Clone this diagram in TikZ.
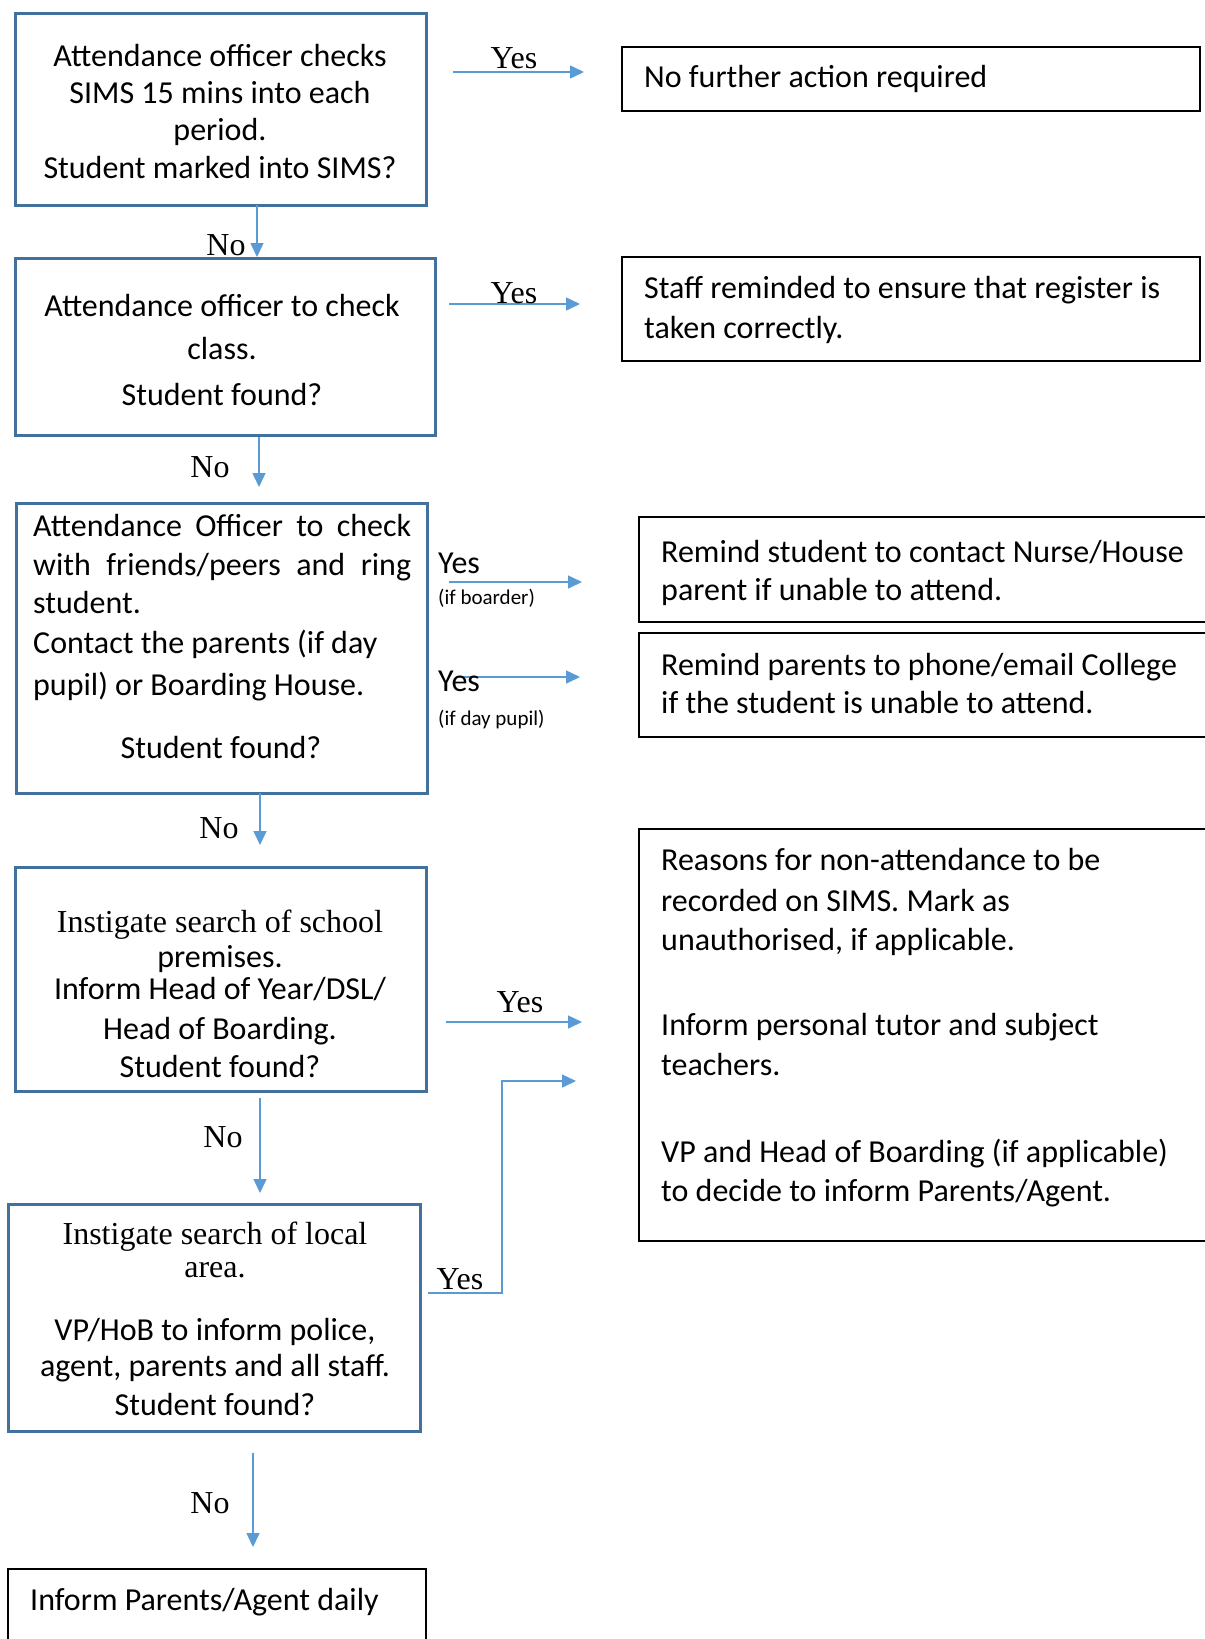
\documentclass[tikz,border=0pt]{standalone}
\usepackage{fontspec}
\setmainfont{Carlito}
\newfontfamily\tnr{Liberation Serif}
\usetikzlibrary{arrows.meta}
\definecolor{boxblue}{RGB}{65,113,156}
\definecolor{arrblue}{RGB}{91,155,213}
\begin{document}
\begin{tikzpicture}[x=1pt,y=-1pt,
  lbox/.style={draw=boxblue, line width=3pt, inner sep=0pt},
  rbox/.style={draw=black, line width=2pt, inner sep=0pt},
  txt/.style={inner sep=0pt, font=\fontsize{32}{37.3}\selectfont},
  lab/.style={inner sep=0pt, font=\tnr\fontsize{32}{36}\selectfont, anchor=base},
  slab/.style={inner sep=0pt, font=\fontsize{32}{36}\selectfont, anchor=base west},
  tiny/.style={inner sep=0pt, font=\fontsize{21}{24}\selectfont, anchor=base west},
  arr/.style={draw=arrblue, line width=1.5pt, -{Triangle[length=14pt,width=13pt]}}]
\useasboundingbox (0,0) rectangle (1205,1639);
\clip (0,0) rectangle (1205,1639);
\fill[white] (0,0) rectangle (1205,1639);

% left boxes
\node[lbox, minimum width=411pt, minimum height=192pt] (b1) at (220.5,109) {};
\node[lbox, minimum width=420pt, minimum height=177pt] (b2) at (225,346.5) {};
\node[lbox, minimum width=411pt, minimum height=290pt] (b3) at (221.5,648) {};
\node[lbox, minimum width=411pt, minimum height=224pt] (b4) at (220.5,979) {};
\node[lbox, minimum width=412pt, minimum height=227pt] (b5) at (214,1317.5) {};
\node[rbox, line width=2.5pt, minimum width=418pt, minimum height=131pt] (b6) at (217,1634.5) {};

% right boxes
\node[rbox, minimum width=578pt, minimum height=64pt] (r1) at (911,79) {};
\node[rbox, minimum width=578pt, minimum height=104pt] (r2) at (911,309) {};
\node[rbox, minimum width=576pt, minimum height=105pt] (r3) at (927,569.5) {};
\node[rbox, minimum width=576pt, minimum height=104pt] (r4) at (927,685) {};
\node[rbox, minimum width=576pt, minimum height=412pt] (r5) at (927,1035) {};

% texts in left boxes (anchor base = baseline of the last line)
\node[txt, align=center, anchor=base] (b1t) at (220,178)
  {Attendance officer checks\\SIMS 15 mins into each\\period.\\Student marked into SIMS?};
\node[txt, font=\fontsize{32}{43}\selectfont, align=center, anchor=base] (b2t) at (222,405)
  {Attendance officer to check\\class.\\[3pt]Student found?};
\node[txt, font=\fontsize{32}{39}\selectfont, align=left, anchor=base west] (b3t) at (33,695)
  {\makebox[378pt][s]{Attendance Officer to check}\\[-0.5pt]
   \makebox[378pt][s]{with friends/peers and ring}\\[-1pt]
   student.\\[1pt]
   Contact the parents (if day\\[3pt]
   pupil) or Boarding House.};
\node[txt, anchor=base] (b3q) at (221,758) {Student found?};
\node[txt, font=\fontsize{32}{36}\selectfont, align=center, anchor=base] (b4t) at (220,1077)
  {{\tnr Instigate search of school}\\[-1pt]
   premises.\\[-4pt]
   Inform Head of Year/DSL/\\[4pt]
   Head of Boarding.\\[2pt]
   Student found?};
\node[txt, font=\fontsize{32}{36}\selectfont, align=center, anchor=base] (b5t) at (215,1415)
  {{\tnr Instigate search of local}\\[-3pt]
   {\tnr area.}\\[27pt]
   VP/HoB to inform police,\\
   agent, parents and all staff.\\[3pt]
   Student found?};
\node[txt, anchor=base west] (b6t) at (30,1610) {Inform Parents/Agent daily};

% texts in right boxes
\node[txt, anchor=base west] (r1t) at (644,87) {No further action required};
\node[txt, font=\fontsize{32}{40}\selectfont, align=left, anchor=base west] (r2t) at (644,338)
  {Staff reminded to ensure that register is\\taken correctly.};
\node[txt, font=\fontsize{32}{38}\selectfont, align=left, anchor=base west] (r3t) at (661,600)
  {Remind student to contact Nurse/House\\parent if unable to attend.};
\node[txt, font=\fontsize{32}{38}\selectfont, align=left, anchor=base west] (r4t) at (661,713)
  {Remind parents to phone/email College\\if the student is unable to attend.};
\node[txt, font=\fontsize{32}{40}\selectfont, align=left, anchor=base west] (r5t) at (661,1201)
  {Reasons for non-attendance to be\\[1pt]
   recorded on SIMS. Mark as\\[-1pt]
   unauthorised, if applicable.\\[45pt]
   Inform personal tutor and subject\\
   teachers.\\[47pt]
   VP and Head of Boarding (if applicable)\\[-1pt]
   to decide to inform Parents/Agent.};

% connector end points
\coordinate (a1s) at (453,72);   \coordinate (a1e) at (584,72);
\coordinate (a2s) at (449,304);  \coordinate (a2e) at (580,304);
\coordinate (n1s) at (257,205);  \coordinate (n1e) at (257,257);
\coordinate (n2s) at (259,437);  \coordinate (n2e) at (259,487);
\coordinate (a3s) at (449,582);  \coordinate (a3e) at (582,582);
\coordinate (a4s) at (456,677);  \coordinate (a4e) at (580,677);
\coordinate (n3s) at (260,793);  \coordinate (n3e) at (260,845);
\coordinate (a5s) at (446,1022); \coordinate (a5e) at (582,1022);
\coordinate (n4s) at (260,1098); \coordinate (n4e) at (260,1193);
\coordinate (a6s) at (428,1293); \coordinate (a6a) at (502,1293);
\coordinate (a6b) at (502,1081); \coordinate (a6e) at (576,1081);
\coordinate (n5s) at (253,1453); \coordinate (n5e) at (253,1547);

% connectors
\draw[arr] (a1s) -- (a1e);
\draw[arr] (a2s) -- (a2e);
\draw[arr] (n1s) -- (n1e);
\draw[arr] (n2s) -- (n2e);
\draw[arr] (a3s) -- (a3e);
\draw[arr] (a4s) -- (a4e);
\draw[arr] (n3s) -- (n3e);
\draw[arr] (a5s) -- (a5e);
\draw[arr] (n4s) -- (n4e);
\draw[arr] (a6s) -- (a6a) -- (a6b) -- (a6e);
\draw[arr] (n5s) -- (n5e);

% labels
\node[lab] (l1) at (514,68) {Yes};
\node[lab] (l2) at (514,303) {Yes};
\node[lab] (l3) at (226,255) {No};
\node[lab] (l4) at (210,477) {No};
\node[slab] (l5) at (438,573) {Yes};
\node[tiny] (l5b) at (438,604) {(if boarder)};
\node[slab] (l6) at (438,691) {Yes};
\node[tiny] (l6b) at (438,725) {(if day pupil)};
\node[lab] (l7) at (219,838) {No};
\node[lab] (l8) at (520,1012) {Yes};
\node[lab] (l9) at (223,1147) {No};
\node[lab] (l10) at (460,1289) {Yes};
\node[lab] (l11) at (210,1513) {No};
\end{tikzpicture}
\end{document}
